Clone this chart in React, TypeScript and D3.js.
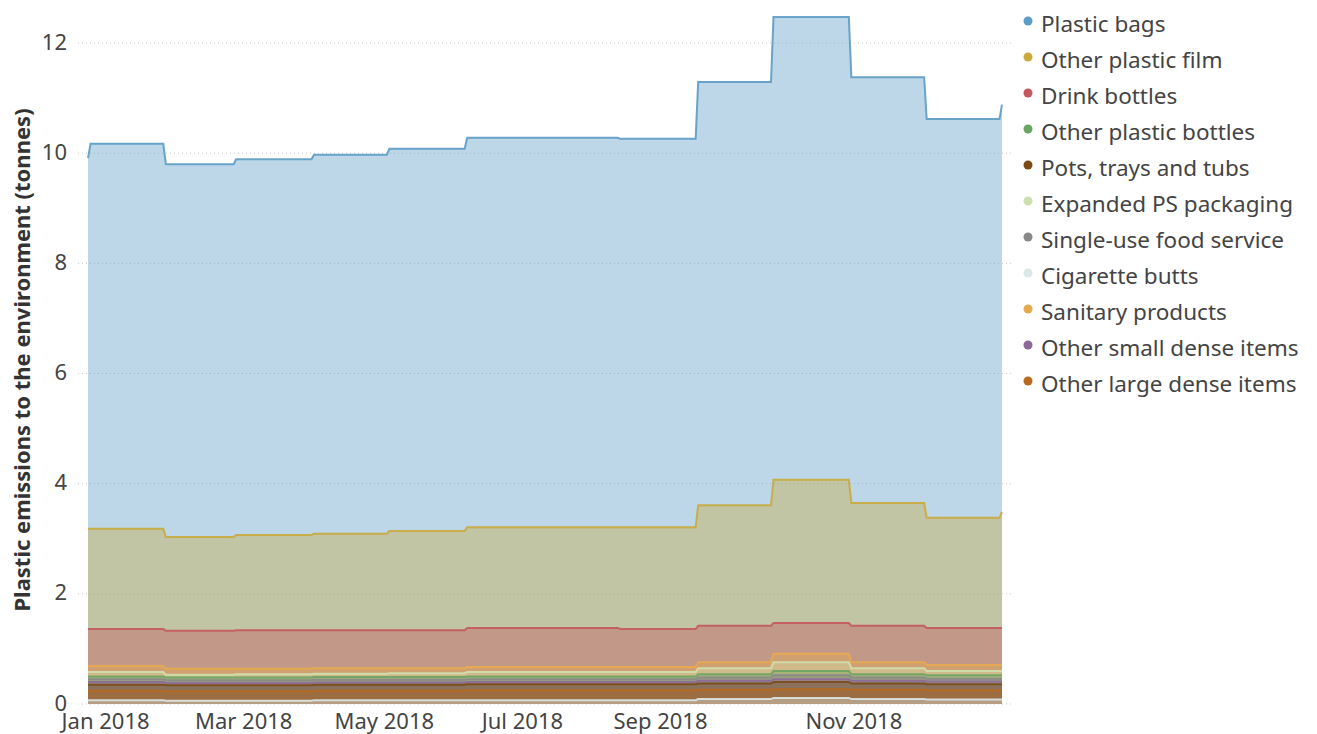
import React, { useLayoutEffect } from "react";
import * as d3 from "d3";

// Each series: [first day (1 Jan), Jan, Feb, Mar, Apr, May, Jun, Jul, Aug, Sep, Oct, Nov, Dec, last day (31 Dec)]
const seriesNames = [
  "Plastic bags",
  "Other plastic film",
  "Drink bottles",
  "Other plastic bottles",
  "Pots, trays and tubs",
  "Expanded PS packaging",
  "Single-use food service",
  "Cigarette butts",
  "Sanitary products",
  "Other small dense items",
  "Other large dense items",
];

const seriesColors = [
  "#5b9bc5",
  "#c9aa3c",
  "#c4585e",
  "#6aa463",
  "#7b4a17",
  "#cfe0b0",
  "#888888",
  "#dce8e8",
  "#e8aa4e",
  "#8c6a98",
  "#b8691e",
];

const plasticBags = [6.73, 6.99, 6.77, 6.82, 6.88, 6.94, 7.07, 7.07, 7.05, 7.68, 8.40, 7.73, 7.24, 7.39];
const otherPlasticFilm = [1.82, 1.82, 1.70, 1.73, 1.75, 1.80, 1.83, 1.83, 1.85, 2.19, 2.60, 2.23, 2.00, 2.11];
const drinkBottles = [0.67, 0.67, 0.69, 0.70, 0.69, 0.69, 0.71, 0.71, 0.69, 0.66, 0.56, 0.66, 0.67, 0.67];
const otherPlasticBottles = [0.05, 0.05, 0.05, 0.05, 0.05, 0.05, 0.05, 0.05, 0.05, 0.06, 0.08, 0.06, 0.06, 0.06];
const potsTraysTubs = [0.11, 0.11, 0.11, 0.11, 0.11, 0.11, 0.11, 0.11, 0.11, 0.11, 0.13, 0.11, 0.11, 0.11];
const expandedPS = [0.08, 0.08, 0.05, 0.06, 0.06, 0.07, 0.08, 0.08, 0.08, 0.11, 0.16, 0.11, 0.08, 0.08];
const singleUseFood = [0.05, 0.05, 0.05, 0.05, 0.05, 0.05, 0.05, 0.05, 0.05, 0.06, 0.07, 0.06, 0.05, 0.05];
const cigaretteButts = [0.07, 0.07, 0.06, 0.06, 0.07, 0.07, 0.07, 0.07, 0.07, 0.09, 0.11, 0.09, 0.08, 0.08];
const sanitaryProducts = [0.11, 0.11, 0.11, 0.10, 0.10, 0.09, 0.09, 0.09, 0.09, 0.11, 0.15, 0.11, 0.11, 0.11];
const otherSmallDense = [0.05, 0.05, 0.04, 0.04, 0.04, 0.04, 0.04, 0.04, 0.04, 0.05, 0.05, 0.05, 0.05, 0.05];
const otherLargeDense = [0.17, 0.17, 0.17, 0.17, 0.17, 0.17, 0.18, 0.18, 0.18, 0.17, 0.16, 0.17, 0.17, 0.17];

const seriesValues = [
  plasticBags,
  otherPlasticFilm,
  drinkBottles,
  otherPlasticBottles,
  potsTraysTubs,
  expandedPS,
  singleUseFood,
  cigaretteButts,
  sanitaryProducts,
  otherSmallDense,
  otherLargeDense,
];

// stacking order, bottom to top
const stackOrder = [
  "Cigarette butts",
  "Other large dense items",
  "Pots, trays and tubs",
  "Other small dense items",
  "Single-use food service",
  "Other plastic bottles",
  "Expanded PS packaging",
  "Sanitary products",
  "Drink bottles",
  "Other plastic film",
  "Plastic bags",
];

const yTicks = [0, 2, 4, 6, 8, 10, 12];
const xTickLabels = ["Jan 2018", "Mar 2018", "May 2018", "Jul 2018", "Sep 2018", "Nov 2018"];
const xTickDates = ["2018-01-08", "2018-03-04", "2018-04-29", "2018-06-23", "2018-08-17", "2018-11-02"];

const W = 1317;
const H = 734;
const FONT = "'Noto Sans', 'Open Sans', sans-serif";

export default function App() {
  useLayoutEffect(() => {
    document.body.style.margin = "0";
  }, []);

  const x = d3
    .scaleUtc()
    .domain([new Date(Date.UTC(2018, 0, 1)), new Date(Date.UTC(2018, 11, 31))])
    .range([88, 1002]);
  const y = d3.scaleLinear().domain([0, 12]).range([704, 43]);

  const nPts = plasticBags.length;
  const cum: Record<string, number[]> = {};
  const running = new Array(nPts).fill(0);
  for (const name of stackOrder) {
    const vals = seriesValues[seriesNames.indexOf(name)];
    for (let i = 0; i < nPts; i++) running[i] += vals[i];
    cum[name] = running.slice();
  }

  const toPoints = (c: number[]) => {
    const pts: { date: Date; v: number }[] = [];
    pts.push({ date: new Date(Date.UTC(2018, 0, 1)), v: c[0] });
    for (let m = 0; m < 12; m++) {
      const s = m === 0 ? new Date(Date.UTC(2018, 0, 2)) : new Date(Date.UTC(2018, m, 1));
      const e = m === 11 ? new Date(Date.UTC(2018, 11, 30)) : new Date(Date.UTC(2018, m + 1, 0));
      pts.push({ date: s, v: c[m + 1] });
      pts.push({ date: e, v: c[m + 1] });
    }
    pts.push({ date: new Date(Date.UTC(2018, 11, 31)), v: c[nPts - 1] });
    return pts;
  };

  const area = d3
    .area<{ date: Date; v: number }>()
    .x((d) => x(d.date))
    .y0(y(0))
    .y1((d) => y(d.v));
  const line = d3
    .line<{ date: Date; v: number }>()
    .x((d) => x(d.date))
    .y((d) => y(d.v));

  const drawOrder = stackOrder.slice().reverse();

  return (
    <svg width={W} height={H} style={{ display: "block", background: "#fff" }} fontFamily={FONT}>
      {yTicks.map((t) => (
        <g key={t}>
          <line x1={78} x2={1012} y1={y(t)} y2={y(t)} stroke="#c8c8c8" strokeWidth={1} strokeDasharray="1,3" />
          <text x={67} y={y(t)} dy="0.3em" textAnchor="end" fontSize={22} fill="#444">
            {t}
          </text>
        </g>
      ))}
      {drawOrder.map((name) => {
        const idx = seriesNames.indexOf(name);
        const pts = toPoints(cum[name]);
        return (
          <g key={name}>
            <path d={area(pts) || ""} fill={seriesColors[idx]} fillOpacity={0.4} stroke="none" />
            <path d={line(pts) || ""} fill="none" stroke={seriesColors[idx]} strokeWidth={2} strokeOpacity={0.9} />
          </g>
        );
      })}
      {xTickLabels.map((lab, i) => (
        <text key={lab} x={x(new Date(xTickDates[i] + "T00:00:00Z"))} y={729} textAnchor="middle" fontSize={22} fill="#444">
          {lab}
        </text>
      ))}
      <text
        transform={`translate(30,360) rotate(-90)`}
        textAnchor="middle"
        fontSize={22}
        fontWeight="bold"
        fill="#333"
      >
        Plastic emissions to the environment (tonnes)
      </text>
      {seriesNames.map((name, i) => (
        <g key={name} transform={`translate(1028,${24 + i * 36})`}>
          <circle cx={0} cy={-3} r={4.5} fill={seriesColors[i]} />
          <text x={13} y={0} dy="0.35em" fontSize={22.5} fill="#444">
            {name}
          </text>
        </g>
      ))}
    </svg>
  );
}
